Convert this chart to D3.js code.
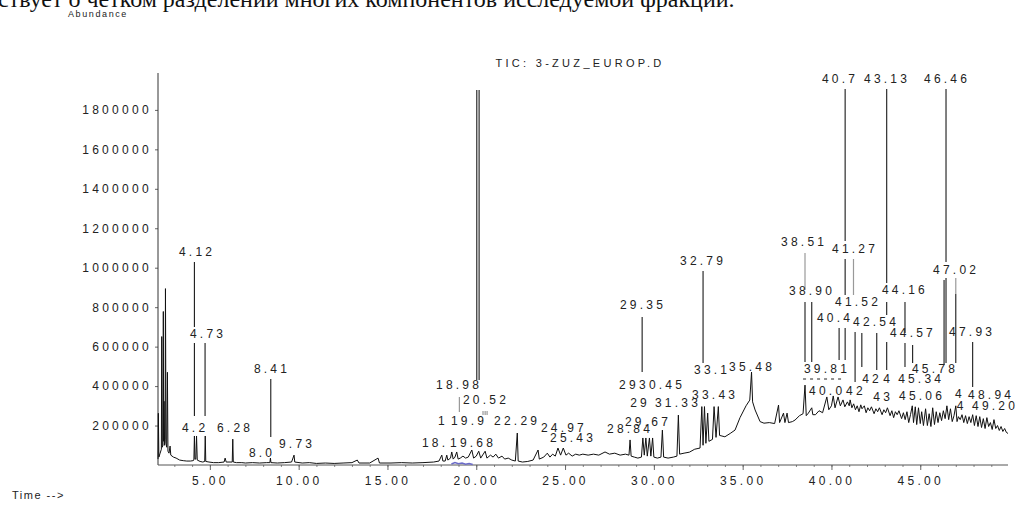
<!DOCTYPE html>
<html lang="ru">
<head>
<meta charset="UTF-8">
<title>TIC: 3-ZUZ_EUROP.D</title>
<script src="https://cdn.jsdelivr.net/npm/d3@7"></script>
<style>
    body { margin: 0; background: #fff; }
    svg text { font-family: "Liberation Sans", Arial, sans-serif; fill: #222; }
    .tick text { font-size: 12px; letter-spacing: 3.3px; }
    .peak-label { font-size: 12px; letter-spacing: 3.2px; }
    .caption { font-family: "Liberation Serif", "Times New Roman", serif !important; font-size: 24px; fill: #111; }
</style>
</head>
<body>
<svg id="chart" width="1018" height="511"></svg>
<script>
// axis ticks
const xTicks = [5, 10, 15, 20, 25, 30, 35, 40, 45];
const yTicks = [200000, 400000, 600000, 800000, 1000000, 1200000, 1400000, 1600000, 1800000];

// TIC trace: [time min, abundance]
const trace = [
    [2.08,30000],[2.10,262000],[2.13,40000],[2.20,60000],[2.27,80000],[2.29,651000],[2.32,90000],
    [2.36,100000],[2.38,778000],[2.40,120000],[2.42,323000],[2.45,100000],[2.48,130000],[2.50,894000],
    [2.53,110000],[2.57,90000],[2.61,470000],[2.64,70000],[2.70,60000],[2.76,96000],[2.80,50000],
    [2.95,40000],[3.10,35000],[3.30,25000],[3.50,22000],[3.70,20000],[3.90,20000],[4.05,22000],
    [4.10,25000],[4.13,147000],[4.16,30000],[4.21,30000],[4.25,147000],[4.29,25000],[4.45,18000],
    [4.60,15000],[4.71,18000],[4.74,147000],[4.77,18000],[4.95,15000],[5.20,12000],[5.50,12000],
    [5.80,15000],[5.86,35000],[5.92,15000],[6.26,15000],[6.29,131000],[6.32,15000],[6.50,12000],
    [6.80,12000],[7.00,10000],[7.40,12000],[7.80,10000],[8.20,12000],[8.38,12000],[8.41,35000],
    [8.44,12000],[8.80,10000],[9.20,12000],[9.60,15000],[9.74,50000],[9.78,15000],[10.2,10000],
    [10.6,12000],[11.0,8000],[11.5,10000],[12.0,8000],[12.5,10000],[13.0,12000],[13.3,25000],
    [13.4,10000],[14.0,10000],[14.47,35000],[14.55,10000],[15.2,10000],[15.8,12000],[16.4,10000],
    [17.0,12000],[17.6,15000],[17.9,20000],[18.06,50000],[18.12,20000],[18.25,20000],[18.34,50000],
    [18.40,25000],[18.55,35000],[18.62,66000],[18.70,30000],[18.80,40000],[18.90,66000],[18.98,30000],
    [19.10,35000],[19.25,45000],[19.40,35000],[19.55,40000],[19.75,76000],[19.85,35000],[20.00,45000],
    [20.14,70000],[20.25,35000],[20.50,70000],[20.60,35000],[20.80,50000],[20.95,40000],[21.10,55000],
    [21.25,35000],[21.45,45000],[21.60,30000],[21.80,35000],[22.00,25000],[22.20,20000],[22.31,162000],
    [22.36,20000],[22.60,15000],[22.90,18000],[23.20,25000],[23.48,76000],[23.55,30000],[23.80,40000],
    [24.00,60000],[24.15,40000],[24.30,55000],[24.45,45000],[24.60,86000],[24.75,50000],[24.90,86000],
    [25.05,50000],[25.20,60000],[25.40,45000],[25.60,55000],[25.80,50000],[26.00,55000],[26.30,50000],
    [26.60,55000],[26.90,50000],[27.25,66000],[27.50,55000],[27.80,60000],[28.10,50000],[28.40,55000],
    [28.60,50000],[28.66,127000],[28.72,45000],[28.90,40000],[29.10,35000],[29.30,40000],[29.38,137000],
    [29.46,50000],[29.55,137000],[29.63,45000],[29.75,137000],[29.83,45000],[29.93,137000],[30.00,40000],
    [30.20,35000],[30.40,40000],[30.48,177000],[30.55,40000],[30.80,35000],[31.10,40000],[31.30,45000],
    [31.38,253000],[31.45,55000],[31.70,60000],[32.00,65000],[32.30,80000],[32.60,86000],[32.70,296000],
    [32.77,100000],[32.85,296000],[32.93,110000],[33.03,263000],[33.10,120000],[33.30,130000],[33.39,296000],
    [33.50,140000],[33.63,296000],[33.70,150000],[34.00,143000],[34.30,160000],[34.57,177000],[34.85,240000],
    [35.19,300000],[35.40,329000],[35.50,471000],[35.56,320000],[35.70,279000],[35.98,220000],[36.20,212000],
    [36.50,215000],[36.80,210000],[37.02,304000],[37.08,215000],[37.30,263000],[37.38,215000],[37.50,263000],
    [37.58,215000],[37.80,220000],[37.95,228000],[38.20,250000],[38.40,260000],[38.51,405000],[38.58,250000],
    [38.70,263000],[38.89,290000],[38.95,255000],[39.10,255000],[39.30,275000],[39.50,265000],[39.74,345000],
    [39.85,280000],[40.00,300000],[40.10,350000],[40.20,290000],[40.37,345000],[40.50,300000],[40.65,330000],
    [40.75,295000],[40.90,320000],[41.00,300000],[41.05,330000],[41.15,290000],[41.25,310000],[41.35,280000],
    [41.45,300000],[41.55,270000],[41.65,305000],[41.72,285000],[41.85,300000],[41.95,265000],[42.05,290000],
    [42.15,275000],[42.25,295000],[42.40,260000],[42.50,285000],[42.60,270000],[42.70,290000],[42.85,255000],
    [42.95,280000],[43.05,265000],[43.15,290000],[43.30,250000],[43.40,275000],[43.50,240000],[43.60,270000],
    [43.70,255000],[43.80,275000],[43.95,235000],[44.05,265000],[44.15,230000],[44.25,270000],[44.35,215000],
    [44.45,255000],[44.55,300000],[44.62,215000],[44.72,295000],[44.80,205000],[44.90,290000],[45.00,210000],
    [45.08,270000],[45.18,200000],[45.30,285000],[45.40,200000],[45.50,260000],[45.60,195000],[45.70,290000],
    [45.80,205000],[45.90,270000],[46.00,215000],[46.10,265000],[46.20,225000],[46.30,275000],[46.40,235000],
    [46.50,300000],[46.60,230000],[46.70,285000],[46.80,220000],[46.90,250000],[47.00,300000],[47.07,220000],
    [47.15,245000],[47.25,230000],[47.35,255000],[47.45,215000],[47.55,250000],[47.65,210000],[47.75,245000],
    [47.85,215000],[47.95,255000],[48.05,200000],[48.15,250000],[48.25,195000],[48.35,245000],[48.45,190000],
    [48.55,235000],[48.65,185000],[48.75,240000],[48.85,195000],[48.95,215000],[49.05,180000],[49.15,230000],
    [49.25,185000],[49.35,200000],[49.45,175000],[49.55,195000],[49.65,170000],[49.75,185000],[49.85,165000],
    [49.94,160000]
];

// faint blue overlay near the baseline around 19 min
const blueTrace = [[18.60,5000],[18.80,12000],[19.00,6000],[19.20,10000],[19.40,4000],[19.60,8000],[19.80,3000]];

// label leader lines: [time, top abundance, bottom abundance]
const leaders = [
    [4.13,1029000,699500],[4.13,618400,248400],[4.73,618400,248400],[8.43,435900,141900],
    [20.03,1900900,430900],[20.16,1900900,430900],[29.34,750200,471400],[32.77,983400,517000],
    [38.51,826200,522100],[38.89,826200,522100],[40.77,1905900,1135500],[40.77,1044200,861700],
    [40.77,694500,532200],[41.33,674200,420700],[40.43,694500,532200],[41.71,669100,496800],
    [42.55,669100,481600],[43.11,1905900,922600],[43.11,826200,760400],[43.11,623500,481600],
    [44.14,826200,669100],[44.14,618400,496800],[44.57,608300,517000],[46.34,937800,507000],
    [46.45,1905900,1029000],[46.45,947900,517000],[47.00,866800,517000],[47.95,623500,395400]
];
const greyLeaders = [
    [19.05,344700,268700],[20.38,273700,253500],[20.50,273700,253500],[20.61,273700,253500],
    [38.51,1074600,887100],[41.24,1044200,861700],[47.00,947900,866800]
];
// dashed connector under 39.81: [from time, to time, abundance]
const dashedLeaders = [[38.40, 40.60, 435900]];

// peak labels: text, centre time, baseline abundance
const labelText = ["4.12","4.73","4.2","6.28","8.41","8.0","9.73","18.98","20.52","1","19.9","22.29",
    "24.97","25.43","18.","19.68","28.84","29.67","29","31.33","29","30.45","29.35","32.79","33.1","33.43",
    "35.48","40.7","43.13","46.46","38.51","41.27","47.02","38.90","41.52","44.16","40.4","42.54","44.57",
    "47.93","39.81","45.78","42","4","45.34","40.0","42","43","45.06","4","48.94","4","49.20"];
const labelTime = [4.28,4.90,4.17,6.42,8.50,7.94,9.91,19.03,20.55,18.13,19.59,22.30,
    24.94,25.45,17.68,19.82,28.66,29.67,29.22,31.36,28.60,30.46,29.39,32.77,33.28,33.45,
    35.53,40.48,43.13,46.51,38.46,41.33,47.02,38.91,41.50,44.14,40.20,42.51,44.59,
    47.92,39.75,45.83,42.29,43.20,45.05,39.76,41.38,42.91,45.10,47.24,48.99,47.33,49.21];
const labelAbund = [1059400,643800,167300,167300,466300,40600,86200,385200,309200,202800,202800,202800,
    167300,116600,91200,91200,162200,197700,294000,294000,385200,385200,790800,1013800,461300,334600,
    476500,1936400,1936400,1936400,1110100,1074600,968200,861700,806000,866800,724900,704600,648800,
    653900,466300,466300,415700,415700,415700,354800,354800,324400,329500,339600,334600,278800,278800];

const svg = d3.select("#chart");

const x = d3.scaleLinear().domain([2.08, 49.94]).range([158, 1008]);
const y = d3.scaleLinear().domain([0, 1987000]).range([465, 73]);

// cropped caption line from the page above the figure
svg.append("text")
    .attr("class", "caption")
    .attr("x", -2)
    .attr("y", 7)
    .text("ствует о четком разделении многих компонентов исследуемой фракции.");

svg.append("text")
    .attr("x", 68).attr("y", 17)
    .style("font-size", "9px").style("letter-spacing", "1.6px")
    .text("Abundance");

svg.append("text")
    .attr("x", 580).attr("y", 67)
    .attr("text-anchor", "middle")
    .style("font-size", "11px").style("letter-spacing", "3.3px")
    .text("TIC: 3-ZUZ_EUROP.D");

svg.append("text")
    .attr("x", 12).attr("y", 499)
    .style("font-size", "11px").style("letter-spacing", "1.5px")
    .text("Time -->");

// y axis
const yAxis = svg.append("g")
    .attr("transform", "translate(158,0)")
    .call(d3.axisLeft(y).tickValues(yTicks).tickSize(3).tickPadding(3).tickFormat(d3.format("d")));
yAxis.select(".domain").remove();
yAxis.selectAll(".tick line").attr("stroke", "#666");

// x axis: minor ticks each minute, major every 5
const xMinor = svg.append("g")
    .attr("transform", "translate(0,465)")
    .call(d3.axisBottom(x).tickValues(d3.range(3, 50)).tickSize(2).tickFormat(""));
xMinor.select(".domain").remove();
xMinor.selectAll(".tick line").attr("stroke", "#888");

const xAxis = svg.append("g")
    .attr("transform", "translate(0,465)")
    .call(d3.axisBottom(x).tickValues(xTicks).tickSize(5).tickPadding(6).tickFormat(d3.format(".2f")));
xAxis.select(".domain").remove();
xAxis.selectAll(".tick line").attr("stroke", "#666");

svg.append("line")
    .attr("x1", 158).attr("x2", 158).attr("y1", 73).attr("y2", 465)
    .attr("stroke", "#333");
svg.append("line")
    .attr("x1", 158).attr("x2", 1008).attr("y1", 465).attr("y2", 465)
    .attr("stroke", "#555");

// leader lines
svg.append("g").selectAll("line")
    .data(leaders)
    .enter().append("line")
    .attr("x1", d => x(d[0])).attr("x2", d => x(d[0]))
    .attr("y1", d => y(d[1])).attr("y2", d => y(d[2]))
    .attr("stroke", "#1a1a1a").attr("stroke-width", 1.1);

svg.append("g").selectAll("line")
    .data(greyLeaders)
    .enter().append("line")
    .attr("x1", d => x(d[0])).attr("x2", d => x(d[0]))
    .attr("y1", d => y(d[1])).attr("y2", d => y(d[2]))
    .attr("stroke", "#999").attr("stroke-width", 1.2);

svg.append("g").selectAll("line")
    .data(dashedLeaders)
    .enter().append("line")
    .attr("x1", d => x(d[0])).attr("x2", d => x(d[1]))
    .attr("y1", d => y(d[2])).attr("y2", d => y(d[2]))
    .attr("stroke", "#222").attr("stroke-dasharray", "3,4");

// chromatogram
const line = d3.line().x(d => x(d[0])).y(d => y(d[1]));

svg.append("path")
    .datum(blueTrace)
    .attr("fill", "none")
    .attr("stroke", "#6b6bc8")
    .attr("stroke-width", 1.5)
    .attr("d", line);

svg.append("path")
    .datum(trace)
    .attr("fill", "none")
    .attr("stroke", "#111")
    .attr("stroke-width", 1)
    .attr("d", line);

// peak labels
svg.append("g").selectAll("text")
    .data(labelText)
    .enter().append("text")
    .attr("class", "peak-label")
    .attr("text-anchor", "middle")
    .attr("x", (d, i) => x(labelTime[i]))
    .attr("y", (d, i) => y(labelAbund[i]))
    .text(d => d);
</script>
</body>
</html>
